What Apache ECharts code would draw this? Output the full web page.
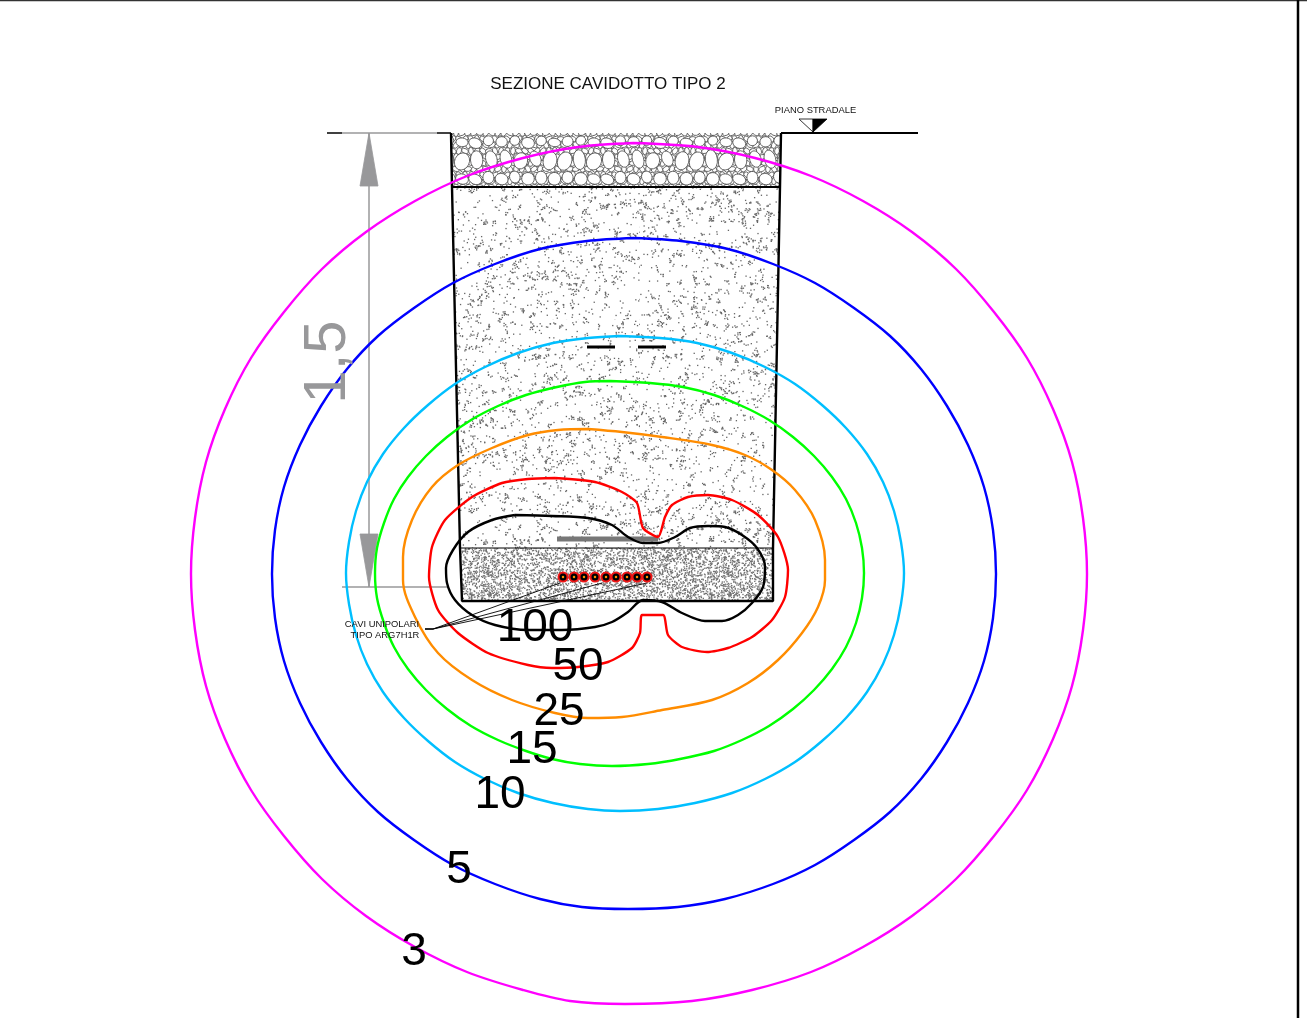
<!DOCTYPE html>
<html><head><meta charset="utf-8">
<style>html,body{margin:0;padding:0;background:#fff;overflow:hidden}#c{width:1307px;height:1018px}</style>
<script src="https://cdn.jsdelivr.net/npm/echarts@6/dist/echarts.min.js"></script>
</head><body><div id="c"></div>
<script>
// Contour levels (iso-lines, µT), in picture units
const level3 = [[633,143],[698,147],[755,158],[811,176],[863,201],[912,232],[956,269],[994,312],[1027,358],[1053,409],[1072,462],[1083,518],[1087,574],[1083,630],[1072,686],[1053,739],[1027,790],[994,836],[956,879],[912,916],[863,947],[811,972],[752,990],[692,1001],[625,1004],[570,1001],[523,990],[467,972],[415,947],[366,916],[322,879],[284,836],[251,790],[225,739],[206,686],[195,630],[191,574],[195,518],[206,462],[225,409],[251,358],[284,312],[322,269],[366,232],[415,201],[467,176],[523,158],[578,147],[633,143]];
const level5 = [[634,238],[681,241],[728,249],[773,264],[815,283],[854,308],[890,336],[921,369],[947,406],[968,445],[984,487],[993,530],[996,574],[993,618],[984,661],[968,703],[947,742],[921,779],[890,812],[854,840],[815,865],[773,884],[725,899],[678,907],[628,909],[582,907],[540,899],[495,884],[453,865],[414,840],[378,812],[347,779],[321,742],[300,703],[284,661],[275,618],[272,574],[275,530],[284,487],[300,445],[321,406],[347,369],[378,336],[414,308],[453,283],[495,264],[540,249],[587,241],[634,238]];
const level10 = [[620,336],[660,338],[697,343],[732,353],[765,367],[795,384],[822,405],[846,428],[867,454],[883,482],[894,511],[901,542],[904,573],[901,604],[894,635],[883,664],[867,692],[846,718],[822,741],[795,762],[765,779],[732,793],[695,803],[658,809],[620,811],[588,809],[553,803],[518,793],[485,779],[455,762],[428,741],[404,718],[383,692],[367,664],[356,635],[349,604],[346,573],[349,542],[356,511],[367,482],[383,454],[404,428],[428,405],[455,384],[485,367],[518,353],[553,343],[588,338],[620,336]];
const level15 = [[610,381],[650,383],[683,387],[714,395],[742,406],[769,420],[793,437],[814,456],[832,477],[846,499],[856,523],[862,548],[864,573],[862,598],[856,623],[846,647],[832,669],[814,690],[793,709],[769,726],[742,740],[714,751],[680,759],[648,764],[612,766],[580,764],[552,759],[526,751],[498,740],[471,726],[447,709],[426,690],[408,669],[394,647],[384,623],[377,598],[375,573],[377,548],[384,523],[394,499],[408,477],[426,456],[447,437],[471,420],[498,406],[526,395],[557,387],[585,382],[610,381]];
const level25 = [[588,429],[622,432],[662,437],[712,445],[745,455],[772,470],[795,490],[815,520],[825,560],[825,580],[818,607],[802,633],[778,660],[748,683],[712,700],[662,710],[622,717],[588,718],[555,713],[512,700],[472,680],[438,653],[415,617],[403,580],[403,557],[412,520],[432,487],[458,465],[492,448],[528,435],[558,430],[588,429]];
const level50 = [[555,478],[595,482],[622,492],[637,503],[643,528],[658,537],[665,517],[672,505],[688,497],[708,495],[732,500],[758,515],[778,537],[788,570],[785,597],[772,620],[752,637],[728,648],[707,652],[682,647],[668,635],[663,615],[642,615],[640,633],[632,648],[608,662],[578,667],[552,668],[528,665],[488,653],[458,633],[438,610],[429,577],[432,547],[445,520],[472,497],[502,483],[528,479],[555,478]];
const level100 = [[515,515],[552,516],[588,518],[612,525],[628,537],[643,543],[658,543],[675,537],[690,528],[708,526],[725,527],[742,535],[757,548],[765,567],[763,587],[752,603],[738,615],[722,621],[705,621],[682,613],[662,602],[643,600],[628,612],[612,622],[595,627],[562,630],[528,630],[495,625],[472,615],[455,600],[447,583],[446,568],[453,550],[468,532],[492,520],[515,515]];
const levelColors = ['#ff00ff','#0000ff','#00bfff','#00ff00','#ff8c00','#ff0000','#000000'];
const levelSmooth = [0.33,0.33,0.33,0.33,0.33,0.22,0.3];
const levelLabels = [['3',414,952],['5',459,870],['10',500,795],['15',532,750],['25',559,712],['50',578,667],['100',535,628]];

// Trench section
const gravelLayer = [[451,133],[781,133],[780,187],[452,187]];
const fillLayer = [[452,187],[780,187],[773,548],[460,548]];
const sandLayer = [[460,548],[773,548],[773,601],[462,601]];
const trenchWalls = [[451,133],[452,187],[460,548],[462,601],[773,601],[773,548],[780,187],[781,133]];
const gravelBase = [[452,187],[780,187]];
const sandTop = [[460,548],[773,548]];
const cableX = [563,574,584,595,606,616,627,637,647];
const cableY = 577;
const leaderA = [[425,629],[433,629],[560,583]];
const leaderB = [[425,629],[433,629],[602,583]];
const leaderC = [[425,629],[433,629],[647,583]];
const tapeBar = [[557,539],[658,539]];
const dashA = [[587,347],[615,347]];
const dashB = [[638,347],[666,347]];
const groundLeft = [[327,133],[342,133]];
const groundLeftEnd = [[437,133],[451,133]];
const groundRight = [[781,133],[918,133]];
const dimExtTop = [[342,133],[437,133]];
const dimLine = [[369,133],[369,587]];
const dimExtBottom = [[342,587],[448,587]];
const dimArrowTop = [[369,133],[378,186],[360,186]];
const dimArrowBottom = [[369,587],[378,534],[360,534]];
const roadMarkWhite = [[799,119],[813,119],[813,132]];
const roadMarkBlack = [[813,119],[827,119],[813,132]];
const frameTop = [[0,0.5],[1307,0.5]];
const frameRight = [[1298,0],[1298,1018]];
const plainTexts = [
  ['SEZIONE CAVIDOTTO TIPO 2',608,84.5,17],
  ['PIANO STRADALE',815.5,110,9.4],
  ['CAVI UNIPOLARI',382,624.5,9.4],
  ['TIPO ARG7H1R',385,635.5,9.4]
];
const dimText = [['1,5',328,362,60]];

// Hatch textures (fixed, non-random sequence)
function h(n){const s=Math.sin(n*127.1+311.7)*43758.5453;return s-Math.floor(s);}
function stipple(size,count,seed,color,clump){
  const c=document.createElement('canvas');c.width=c.height=size;const g=c.getContext('2d');
  g.fillStyle='#fff';g.fillRect(0,0,size,size);g.fillStyle=color;
  for(let i=0;i<count;i++){
    const k=i*0.731+seed;
    const x=h(k)*size,y=h(k+0.37)*size,r=h(k+0.71);
    const n=r>1-clump?4:1;
    for(let j=0;j<n;j++){
      const dx=j?(h(k+j*1.3)-0.5)*5:0,dy=j?(h(k+j*2.1)-0.5)*5:0;
      g.fillRect((x+dx+size)%size,(y+dy+size)%size,1.3,1.3);
    }
  }
  return c;
}
function gravel(){
  const W=132,H=54,c=document.createElement('canvas');c.width=W;c.height=H;const g=c.getContext('2d');
  const off=133%H;
  g.fillStyle='#fff';g.fillRect(0,0,W,H);g.strokeStyle='#444';g.lineWidth=0.8;
  const blob=(x,y,rx,ry,a)=>{
    for(const dy of [-H,0,H])for(const dx of [-W,0,W]){
      g.beginPath();g.ellipse(x+dx,y+off+dy,rx,ry,a,0,Math.PI*2);g.fillStyle='#fff';g.fill();g.stroke();
    }
  };
  for(let y=0;y<H;y+=6)for(let x=0;x<W;x+=6){
    blob(x+(y%12?3:0),y,3.6,2.4,h(x+y*9)*3);
  }
  const rows=[[9,6.5,5.2,13],[27,7,9.5,15],[45,6.5,6,13]];
  rows.forEach((r,ri)=>{
    const n=Math.round(W/r[3]);
    for(let i=0;i<n;i++){
      const x=(i+0.5*(ri%2))*W/n,j=h(i*3.3+ri*17);
      blob(x,r[0]+(j-0.5)*3,r[1]*(0.75+0.3*j),r[2]*(0.8+0.3*h(i*1.7+ri)),(j-0.5)*0.9);
    }
  });
  return c;
}
const regions=[
  {pts:gravelLayer,img:gravel()},
  {pts:fillLayer,img:stipple(320,2600,5,'#666',0.25)},
  {pts:sandLayer,img:stipple(240,14000,91,'#707070',0)}
];

const lineS=(d,color,width,z)=>({type:'line',data:d,symbol:'none',silent:true,z:z||3,clip:false,
  lineStyle:{color,width,cap:'butt'},itemStyle:{color}});
const polyS=(pts,fill,stroke)=>({type:'custom',silent:true,z:4,clip:false,data:[[0]],
  renderItem:(p,api)=>({type:'polygon',shape:{points:pts.map(q=>api.coord(q))},style:{fill,stroke:stroke||fill,lineWidth:0.8}})});
const textS=(rows,font,color,rotate)=>({type:'scatter',silent:true,z:8,clip:false,symbolSize:0,itemStyle:{opacity:1},
  data:rows.map(r=>({value:[r[1],r[2]],label:{show:true,position:'inside',formatter:r[0],fontSize:r[3]||font,fontFamily:'Liberation Sans',color,opacity:1,rotate:rotate||0,align:'center',verticalAlign:'middle'}}))});

const levels=[level3,level5,level10,level15,level25,level50,level100];
const option={
  animation:false,backgroundColor:'#fff',
  grid:{left:0,right:0,top:0,bottom:0},
  xAxis:{type:'value',min:0,max:1307,show:false},
  yAxis:{type:'value',min:0,max:1018,inverse:true,show:false},
  series:[
    {type:'custom',silent:true,z:1,clip:false,data:regions.map((r,i)=>[i]),
     renderItem:(p,api)=>{const r=regions[p.dataIndex];
       return {type:'polygon',shape:{points:r.pts.map(q=>api.coord(q))},style:{fill:{image:r.img,repeat:'repeat'}}};}},
    lineS(trenchWalls,'#000',2.4),lineS(gravelBase,'#000',1.8),lineS(sandTop,'#000',1),
    lineS(frameTop,'#333',1.5),lineS(frameRight,'#000',2.5),
    lineS(groundLeft,'#000',1.5),lineS(groundLeftEnd,'#000',1.5),lineS(groundRight,'#000',2),
    lineS(dimExtTop,'#98989a',1.5),lineS(dimLine,'#98989a',1.5),lineS(dimExtBottom,'#98989a',1.5),
    polyS(dimArrowTop,'#98989a'),polyS(dimArrowBottom,'#98989a'),
    polyS(roadMarkWhite,'#fff','#000'),polyS(roadMarkBlack,'#000'),
    lineS(tapeBar,'#777',5),lineS(dashA,'#000',3),lineS(dashB,'#000',3),
    ...levels.map((d,i)=>Object.assign(lineS(d,levelColors[i],2.4,5),{smooth:levelSmooth[i]})),
    lineS(leaderA,'#000',0.9,5),lineS(leaderB,'#000',0.9,5),lineS(leaderC,'#000',0.9,5),
    {type:'scatter',silent:true,z:6,clip:false,symbol:'circle',symbolSize:9,
     data:cableX.map(x=>[x,cableY]),itemStyle:{color:'#000',opacity:1,borderColor:'#f01515',borderWidth:2}},
    {type:'scatter',silent:true,z:7,clip:false,symbol:'circle',symbolSize:2.5,
     data:cableX.map(x=>[x,cableY]),itemStyle:{color:'#ff9000',opacity:1}},
    textS(levelLabels,46,'#000'),
    textS(plainTexts,16,'#111'),
    textS(dimText,60,'#98989a',90)
  ]
};
echarts.init(document.getElementById('c'),null,{renderer:'canvas'}).setOption(option);
</script></body></html>
